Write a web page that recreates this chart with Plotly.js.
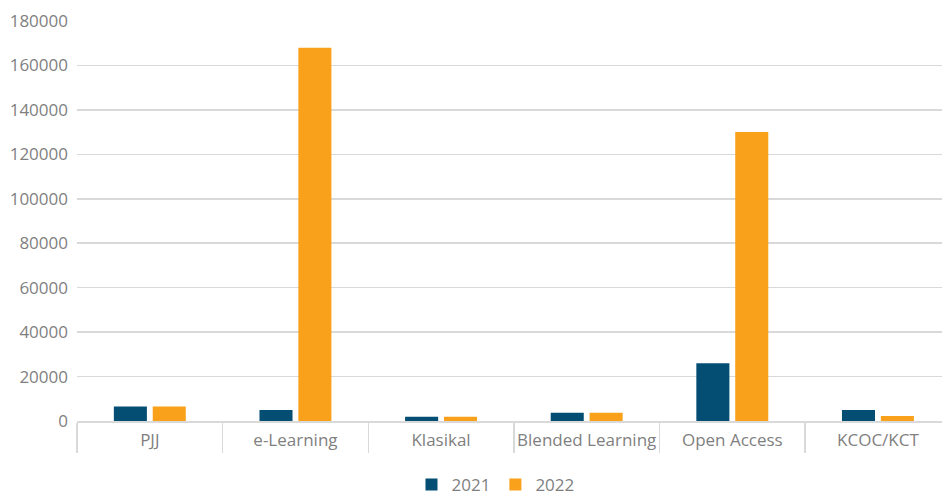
<!DOCTYPE html>
<html>
<head>
<meta charset="utf-8">
<script src="https://cdn.plot.ly/plotly-3.0.1.min.js"></script>
<style>html,body{margin:0;padding:0;background:#fff;}#chart{width:942px;height:497px;}</style>
</head>
<body>
<div id="chart"></div>
<script>
const categories = ["PJJ", "e-Learning", "Klasikal", "Blended Learning", "Open Access", "KCOC/KCT"];
const values2021 = [6500, 5000, 1900, 3700, 26000, 5000];
const values2022 = [6500, 168000, 1900, 3700, 130000, 2300];
const yTicks = [0, 20000, 40000, 60000, 80000, 100000, 120000, 140000, 160000, 180000];

const font = {family: "'Open Sans', sans-serif", size: 17, color: "#7f7f7f"};

const data = [
  {type: "bar", name: "2021", x: categories, y: values2021, marker: {color: "#044e74"}},
  {type: "bar", name: "2022", x: categories, y: values2022, marker: {color: "#f9a11b"}}
];

const layout = {
  width: 942, height: 497,
  margin: {l: 77, r: 0, t: 21, b: 76},
  paper_bgcolor: "#ffffff", plot_bgcolor: "#ffffff",
  font: font,
  barmode: "group", bargap: 0.466, bargroupgap: 0.15,
  showlegend: true,
  legend: {orientation: "h", xref: "container", yref: "container",
           x: 0.526, xanchor: "center", y: 0.024, yanchor: "middle",
           font: font, itemwidth: 30, traceorder: "normal"},
  xaxis: {
    type: "category", range: [-0.5, 5.44], fixedrange: true,
    showline: true, linecolor: "#d9d9d9", linewidth: 1.5,
    showgrid: false, zeroline: false,
    ticks: "outside", tickson: "boundaries", ticklen: 30, tickcolor: "#d9d9d9", tickwidth: 1.5,
    tickangle: 0, ticklabelstandoff: 3,
    tickfont: font
  },
  yaxis: {
    range: [0, 180000], tickvals: yTicks, ticktext: yTicks.map(String),
    showgrid: true, gridcolor: "#d9d9d9", gridwidth: 1.5,
    zeroline: false, showline: false, ticks: "", ticklabelstandoff: 8,
    tickfont: font
  }
};

Plotly.newPlot("chart", data, layout, {displayModeBar: false, staticPlot: true});
</script>
</body>
</html>
